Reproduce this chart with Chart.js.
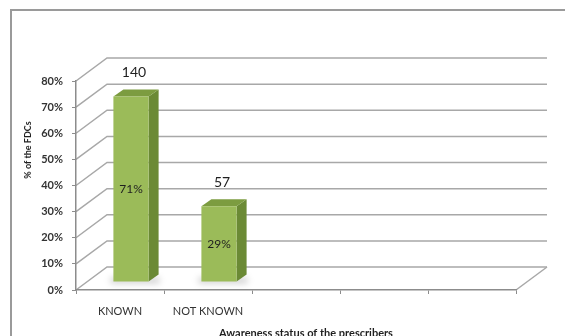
<!DOCTYPE html>
<html>
<head>
<meta charset="utf-8">
<script src="https://cdn.jsdelivr.net/npm/chart.js@4/dist/chart.umd.min.js"></script>
<style>
  html, body { margin: 0; padding: 0; background: #fff; }
</style>
</head>
<body>
<canvas id="graph" width="565" height="336"></canvas>
<script>
const categories = ['KNOWN', 'NOT KNOWN', '', '', ''];
const percentValues = [71, 29, null, null, null];
const prescriberCounts = [140, 57, null, null, null];
const yMax = 80;
const yStep = 10;

// depth of the walls and of the bars standing inside them
const WALL_DX = 31, WALL_DY = -23;
const BAR_DX = 11, BAR_DY = -8;
const SIDE_DX = 10, SIDE_DY = -7;

const FONT = 'Lato, "Liberation Sans", sans-serif';
const TEXT = '#333333';
const GRID = '#a8a8a8';
const AXIS = '#8c8c8c';

const box3d = {
  id: 'box3d',
  beforeDraw(chart) {
    const ctx = chart.ctx;
    const { left, right } = chart.chartArea;
    const ys = chart.scales.y;
    ctx.save();
    ctx.fillStyle = '#fff';
    ctx.fillRect(0, 0, chart.width, chart.height);

    // outer frame, only top and left edges fall inside the canvas
    ctx.strokeStyle = '#9a9a9a';
    ctx.lineWidth = 2;
    ctx.beginPath();
    ctx.moveTo(11, chart.height);
    ctx.lineTo(11, 10);
    ctx.lineTo(chart.width, 10);
    ctx.stroke();

    // side wall diagonals + back wall gridlines
    ctx.strokeStyle = GRID;
    ctx.lineWidth = 1.5;
    ys.ticks.forEach(t => {
      const py = ys.getPixelForValue(t.value);
      ctx.beginPath();
      ctx.moveTo(left, py);
      ctx.lineTo(left + WALL_DX, py + WALL_DY);
      ctx.lineTo(right + WALL_DX, py + WALL_DY);
      ctx.stroke();
    });
    const floor = ys.getPixelForValue(0);
    ctx.beginPath();
    ctx.moveTo(right, floor);
    ctx.lineTo(right + WALL_DX, floor + WALL_DY);
    ctx.stroke();
    ctx.restore();
  },
  beforeDatasetsDraw(chart) {
    const ctx = chart.ctx;
    ctx.save();
    ctx.translate(BAR_DX, BAR_DY);
    chart.getDatasetMeta(0).data.forEach((bar, i) => {
      if (percentValues[i] == null) return;
      const { x, y, base, width } = bar.getProps(['x', 'y', 'base', 'width'], true);
      const l = x - width / 2, r = x + width / 2;

      // soft shadow under the foot of the bar
      ctx.save();
      ctx.fillStyle = 'rgba(0,0,0,0.18)';
      ctx.filter = 'blur(3px)';
      ctx.fillRect(l - 3, base - 4, width + SIDE_DX + 4, 6);
      ctx.restore();

      ctx.fillStyle = '#6b8a35';
      ctx.beginPath();
      ctx.moveTo(r, y);
      ctx.lineTo(r + SIDE_DX, y + SIDE_DY);
      ctx.lineTo(r + SIDE_DX, base + SIDE_DY);
      ctx.lineTo(r, base);
      ctx.closePath();
      ctx.fill();

      ctx.fillStyle = '#7c9c40';
      ctx.beginPath();
      ctx.moveTo(l, y);
      ctx.lineTo(l + SIDE_DX, y + SIDE_DY);
      ctx.lineTo(r + SIDE_DX, y + SIDE_DY);
      ctx.lineTo(r, y);
      ctx.closePath();
      ctx.fill();
    });
  },
  afterDatasetsDraw(chart) {
    const ctx = chart.ctx;
    ctx.restore();
    ctx.save();
    ctx.fillStyle = '#1f1f1f';
    ctx.textAlign = 'center';
    ctx.textBaseline = 'middle';
    chart.getDatasetMeta(0).data.forEach((bar, i) => {
      if (percentValues[i] == null) return;
      const { x, y, base } = bar.getProps(['x', 'y', 'base'], true);
      ctx.font = '12px ' + FONT;
      ctx.fillText(percentValues[i] + '%', x + BAR_DX, (y + base) / 2 + BAR_DY);
      ctx.font = '14px ' + FONT;
      ctx.fillText(String(prescriberCounts[i]), x + BAR_DX + 3, y + BAR_DY - 24);
    });
    ctx.restore();
  },
  afterDraw(chart) {
    const ctx = chart.ctx;
    ctx.save();
    ctx.fillStyle = '#1f1f1f';
    ctx.textAlign = 'center';
    ctx.textBaseline = 'middle';
    ctx.font = 'bold 11px ' + FONT;
    ctx.fillText('Awareness status of the prescribers', 306, 333);
    ctx.translate(28, 150);
    ctx.rotate(-Math.PI / 2);
    ctx.font = 'bold 9px ' + FONT;
    ctx.fillText('% of the FDCs', 0, 0);
    ctx.restore();
  }
};

new Chart(document.getElementById('graph'), {
  type: 'bar',
  data: {
    labels: categories,
    datasets: [{
      data: percentValues,
      backgroundColor: '#9bbb59',
      borderWidth: 0,
      categoryPercentage: 1,
      barPercentage: 0.4,
      clip: false
    }]
  },
  options: {
    responsive: false,
    animation: false,
    layout: { padding: { top: 81, right: 49, left: 0, bottom: 0 } },
    plugins: { legend: { display: false }, tooltip: { enabled: false } },
    scales: {
      x: {
        ticks: { padding: 11, color: TEXT, maxRotation: 0, autoSkip: false, font: { family: FONT, size: 11 } },
        grid: { drawOnChartArea: false, tickLength: 4, color: AXIS, offset: true },
        border: { color: AXIS, width: 1.5 },
        afterFit(scale) { scale.height = 46; }
      },
      y: {
        min: 0,
        max: yMax,
        ticks: { stepSize: yStep, padding: 9, color: TEXT, callback: v => v + '%', font: { family: FONT, size: 11, weight: 'bold' } },
        grid: { drawOnChartArea: false, tickLength: 4, color: AXIS },
        border: { color: AXIS, width: 1.5 },
        afterFit(scale) { scale.width = 76; }
      }
    }
  },
  plugins: [box3d]
});
</script>
</body>
</html>
